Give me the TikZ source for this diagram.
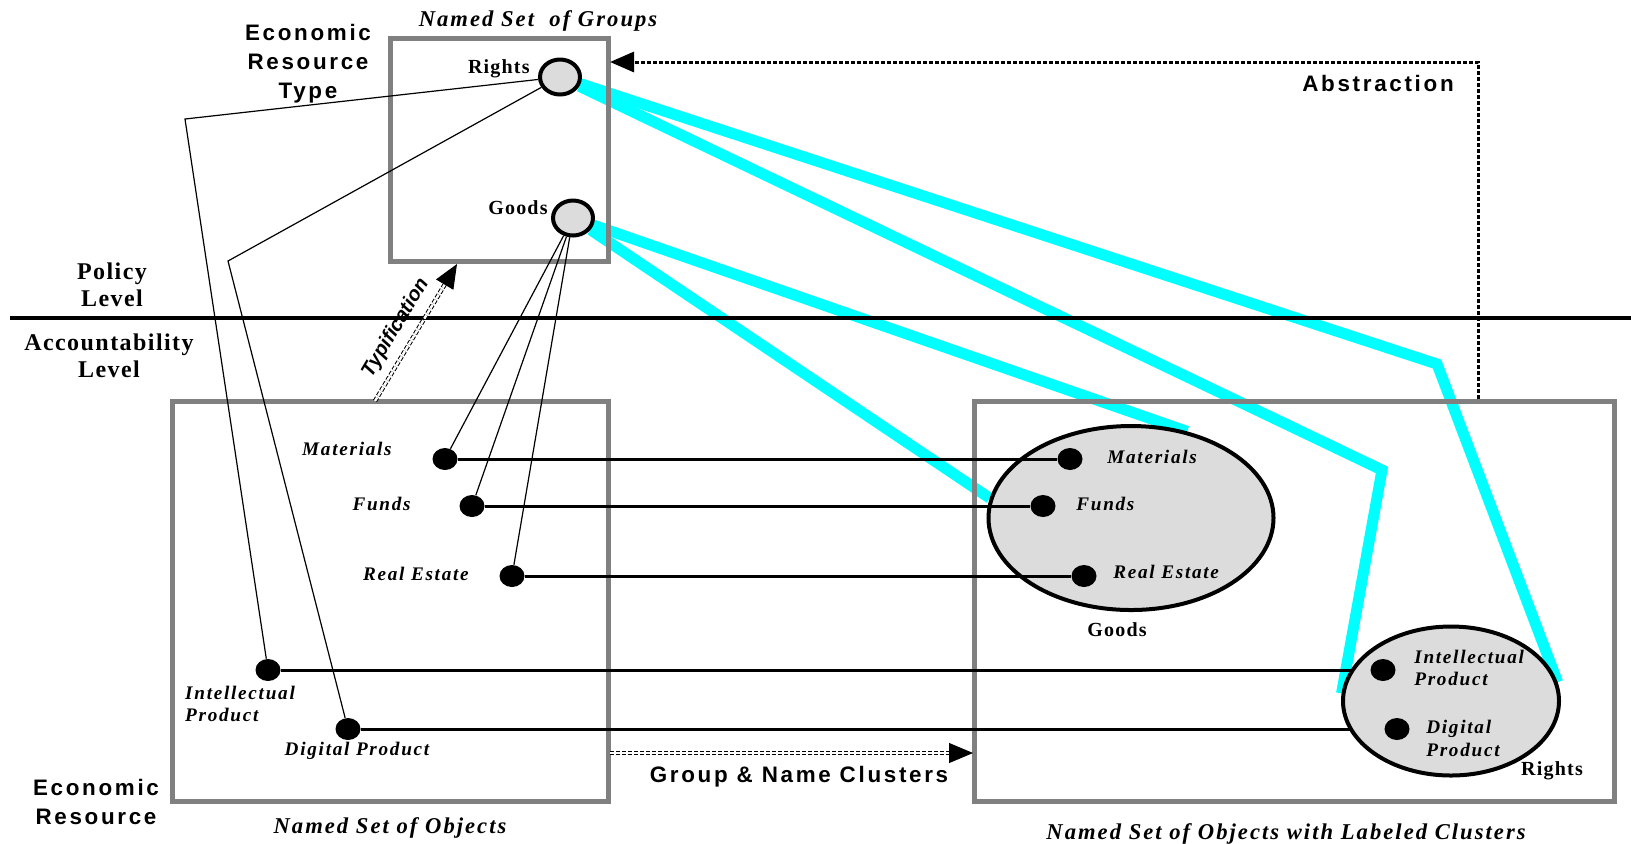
\documentclass[tikz,border=0pt]{standalone}
\usepackage{fontspec}
\setmainfont{Liberation Serif}
\setsansfont{Liberation Sans}
\newfontfamily\spacedsans[LetterSpace=12]{Liberation Sans}
\newfontfamily\spacedserif[LetterSpace=6]{Liberation Serif}
\newfontfamily\spaceditalic[LetterSpace=9]{Liberation Serif}
\usepackage{tikz}
\usetikzlibrary{
  arrows.meta,
  shapes.geometric,
  chains,
  positioning,
  scopes,
  backgrounds
}
\definecolor{boxgray}{RGB}{128,128,128}
\definecolor{dotfill}{RGB}{220,220,220}
\definecolor{linkcyan}{RGB}{0,255,255}

\begin{document}
\begin{tikzpicture}[x=0.5pt,y=-0.5pt,
      setbox/.style={
         rectangle,
         draw=boxgray,
         line width=2.5pt,
         inner sep=0pt,
         outer sep=0pt
      },
      typedot/.style={
         ellipse,
         draw=black,
         line width=2pt,
         fill=dotfill,
         minimum width=20pt,
         minimum height=17.5pt,
         inner sep=0pt
      },
      cluster/.style={
         ellipse,
         draw=black,
         line width=2pt,
         fill=dotfill,
         inner sep=0pt
      },
      item/.style={
         ellipse,
         fill=black,
         minimum width=12.5pt,
         minimum height=11pt,
         inner sep=0pt
      },
      bigsans/.style={font=\spacedsans\bfseries\fontsize{11.2}{14.5}\selectfont,align=center,inner sep=0pt},
      levelname/.style={font=\spacedserif\bfseries\fontsize{12}{13.3}\selectfont,align=center,inner sep=0pt},
      typename/.style={font=\spacedserif\bfseries\fontsize{10}{12}\selectfont,inner sep=0pt},
      setname/.style={font=\spaceditalic\bfseries\itshape\fontsize{11.3}{13.6}\selectfont,inner sep=0pt},
      itemname/.style={font=\spaceditalic\bfseries\itshape\fontsize{9.6}{11.2}\selectfont,align=left,inner sep=0pt},
      tiplabel/.style={font=\sffamily\bfseries\itshape\fontsize{10}{12}\selectfont,inner sep=0pt},
      link/.style={line width=1.5pt},
      thinlink/.style={line width=0.6pt},
      cyanlink/.style={draw=linkcyan,line width=5.5pt},
      levelline/.style={line width=2pt},
      dblarrow/.style={double=white,double distance=1.2pt,line width=0.5pt,
         dash pattern=on 2pt off 1pt,-{Triangle[length=12pt,width=10pt]}},
      dotarrow/.style={line width=1.5pt,dash pattern=on 2pt off 1pt,
         -{Triangle[length=12pt,width=10pt]}}
    ]
    \useasboundingbox (0,0) rectangle (1631,843);

    % the three sets
    \node (groups) [setbox, minimum width=109pt, minimum height=111.5pt] at (499,149.5) {};
    \node (objects) [setbox, minimum width=218pt, minimum height=200pt] at (390,601) {};
    \node (clusters) [setbox, minimum width=320pt, minimum height=200pt] at (1294,601) {};
    \node (grp-title) [setname, above=3pt of groups, xshift=19.5pt] {Named Set~ of Groups};
    \node (obj-title) [setname, below=8pt of objects] {Named Set of Objects};
    \node (clu-title) [setname, below=11pt of clusters, xshift=-4pt] {Named Set of Objects with Labeled Clusters};

    % levels
    \coordinate (lvl-w) at (10,318);
    \coordinate (lvl-e) at (1631,318);
    \draw[levelline] (lvl-w) -- (lvl-e);
    \node (ert-l) [bigsans] at (308,64) {Economic\\Resource\\Type};
    \node (er-l) [bigsans] at (96,802) {Economic\\Resource};
    \node (pol-l) [levelname] at (112,285) {Policy\\Level};
    \node (acc-l) [levelname] at (109,356) {Accountability\\Level};

    % resource types
    \node (rtype) [typedot] at (560,77) {};
    \node (gtype) [typedot] at (573,218) {};
    \node (rtype-l) [typename, left=4pt of rtype, yshift=4pt] {Rights};
    \node (gtype-l) [typename, left=1.5pt of gtype, yshift=5pt] {Goods};

    % resources
    \node (lmat) [item] at (445,459) {};
    \node (lfun) [item] at (472,506) {};
    \node (lrea) [item] at (512,576) {};
    \node (lint) [item] at (268,670) {};
    \node (ldig) [item] at (348,729) {};
    \node (lmat-l) [itemname, left=20pt of lmat, yshift=5pt] {Materials};
    \node (lfun-l) [itemname, left=24pt of lfun, yshift=1pt] {Funds};
    \node (lrea-l) [itemname, left=15pt of lrea, yshift=1pt] {Real Estate};
    \node (lint-l) [itemname, below=2pt of lint, xshift=-14pt] {Intellectual\\Product};
    \node (ldig-l) [itemname, below=0.5pt of ldig, xshift=4.5pt] {Digital Product};

    % rights cluster
    \coordinate (rint-p) at (1383,670);
    \coordinate (rdig-p) at (1397,729);
  { [start chain]
       \chainin (lint);
       \chainin (rint-p)    [join=by link];
  }
  { [start chain]
       \chainin (ldig);
       \chainin (rdig-p)    [join=by link];
  }
    \node (rclu) [cluster, minimum width=108pt, minimum height=74.5pt] at (1451,701) {};
    \node (rint) [item] at (rint-p) {};
    \node (rdig) [item] at (rdig-p) {};
    \node (rint-l) [itemname, right=9pt of rint, yshift=1pt] {Intellectual\\Product};
    \node (rdig-l) [itemname, right=8pt of rdig, yshift=-4.75pt] {Digital\\Product};
    \node (rclu-l) [typename] at (1552,771) {Rights};

    % goods cluster
    \node (gclu) [cluster, minimum width=142.5pt, minimum height=92pt] at (1131,518) {};
    \node (rmat) [item] at (1070,459) {};
    \node (rfun) [item] at (1043,506) {};
    \node (rrea) [item] at (1084,576) {};
    \node (rmat-l) [itemname, right=12pt of rmat, yshift=1pt] {Materials};
    \node (rfun-l) [itemname, right=10pt of rfun, yshift=1pt] {Funds};
    \node (rrea-l) [itemname, right=8pt of rrea, yshift=2pt] {Real Estate};
    \node (gclu-l) [typename, below=5pt of gclu, xshift=-7pt] {Goods};
  { [start chain]
       \chainin (lmat);
       \chainin (rmat)    [join=by link];
  }
  { [start chain]
       \chainin (lfun);
       \chainin (rfun)    [join=by link];
  }
  { [start chain]
       \chainin (lrea);
       \chainin (rrea)    [join=by link];
  }

    % typing of resources
  { [start chain]
       \chainin (gtype);
       \chainin (lmat)    [join=by thinlink];
  }
  { [start chain]
       \chainin (gtype);
       \chainin (lfun)    [join=by thinlink];
  }
  { [start chain]
       \chainin (gtype);
       \chainin (lrea)    [join=by thinlink];
  }
    \coordinate (bend-int) at (185,119);
    \coordinate (bend-dig) at (228,261);
    \draw[thinlink] (rtype) -- (bend-int) -- (lint);
    \draw[thinlink] (rtype) -- (bend-dig) -- (ldig);

    % types to clusters
    \begin{scope}[on background layer]
    \coordinate (rbend-out) at (1437,364);
    \coordinate (rbend-in) at (1382,470);
    \draw[cyanlink] (rtype) -- (rbend-out) -- (rclu.10);
    \draw[cyanlink] (rtype) -- (rbend-in) -- (rclu.176);
    \draw[cyanlink] (gtype) -- (gclu.57);
    \draw[cyanlink] (gtype) -- (gclu.172);
    \end{scope}

    % arrows between the sets
    \coordinate (typ-tail) at (375,401);
    \coordinate (typ-tip) at (457,264);
    \draw[dblarrow] (typ-tail) -- (typ-tip)
       node (typ-l) [tiplabel, pos=0.46, sloped, above=5pt] {Typification};
    \coordinate (grp-tail) at (610,753);
    \coordinate (grp-tip) at (973,753);
    \draw[dblarrow] (grp-tail) -- (grp-tip);
    \node (grp-l) [bigsans] at (799,777) {Group \& Name Clusters};
    \coordinate (abs-foot) at (1478,399);
    \coordinate (abs-tip) at (610,62);
    \draw[dotarrow] (abs-foot) |- (abs-tip);
    \node (abs-l) [bigsans] at (1378,83) {Abstraction};
\end{tikzpicture}
\end{document}
